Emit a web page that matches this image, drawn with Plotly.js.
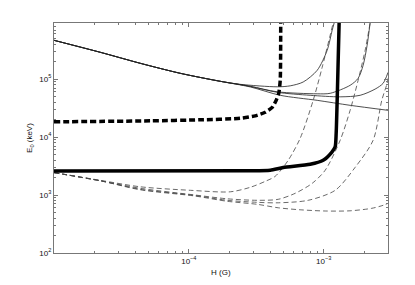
<!DOCTYPE html>
<html>
<head>
<meta charset="utf-8">
<script src="https://cdn.plot.ly/plotly-3.0.1.min.js"></script>
<style>html,body{margin:0;padding:0;background:#fff;}#chart{width:415px;height:285px;}</style>
</head>
<body>
<div id="chart"></div>
<script>
// ---- data (H in gauss, E0 in keV) ----
// thin solid curves
const solidA_H = [1e-5, 2.21e-5, 4.37e-5, 8.65e-5, 1.712e-4, 2.406e-4, 4.524e-4, 5.65e-4, 7.047e-4, 8.953e-4, 1.061e-3, 1.156e-3, 1.196e-3];
const solidA_E = [4.65e5, 2.886e5, 1.865e5, 1.254e5, 9.13e4, 8.1e4, 7.34e4, 7.63e4, 8.88e4, 1.413e5, 3.12e5, 6.91e5, 9.24e5];
const solidB_H = [1e-5, 2.21e-5, 4.37e-5, 8.65e-5, 1.712e-4, 2.855e-4, 4.524e-4, 8.953e-4, 1.117e-3, 1.571e-3, 1.801e-3, 1.962e-3, 2.1e-3, 2.21e-3];
const solidB_E = [4.65e5, 2.886e5, 1.865e5, 1.254e5, 9.13e4, 7.48e4, 6.02e4, 5.56e4, 5.67e4, 7.79e4, 1.028e5, 1.723e5, 3.81e5, 9.24e5];
const solidC_H = [1e-5, 2.21e-5, 4.37e-5, 8.65e-5, 1.712e-4, 2.855e-4, 4.524e-4, 7.943e-4, 1.325e-3, 1.864e-3, 2.406e-3, 2.759e-3, 3.0e-3];
const solidC_E = [4.65e5, 2.886e5, 1.865e5, 1.254e5, 9.13e4, 7.48e4, 5.9e4, 5.24e4, 4.93e4, 5.24e4, 6.7e4, 8.43e4, 1.3e5];
const solidD_H = [1e-5, 2.21e-5, 4.37e-5, 8.65e-5, 1.712e-4, 2.855e-4, 4.762e-4, 8.953e-4, 1.571e-3, 3.0e-3];
const solidD_E = [4.65e5, 2.886e5, 1.865e5, 1.254e5, 9.13e4, 7.3e4, 5.24e4, 4.29e4, 3.52e4, 2.886e4];

// thin dashed curves
const dashA_H = [1e-5, 2.21e-5, 4.37e-5, 1.026e-4, 2.03e-4, 2.855e-4, 3.687e-4, 4.37e-4, 5.457e-4, 6.695e-4, 8.36e-4, 9.748e-4, 1.176e-3];
const dashA_E = [2.43e3, 1.79e3, 1.385e3, 1.205e3, 1.136e3, 1.358e3, 1.72e3, 2.10e3, 3.97e3, 9.5e3, 4.29e4, 1.591e5, 9.24e5];
const dashB_H = [1e-5, 2.21e-5, 4.37e-5, 1.08e-4, 1.929e-4, 3.217e-4, 4.603e-4, 6.15e-4, 8.22e-4, 1.026e-3, 1.325e-3, 1.571e-3, 1.801e-3, 2.03e-3, 2.21e-3];
const dashB_E = [2.43e3, 1.757e3, 1.305e3, 1.008e3, 860, 810, 843, 1.07e3, 1.59e3, 2.67e3, 8.77e3, 2.886e4, 9.5e4, 3.12e5, 9.24e5];
const dashC_H = [1e-5, 2.21e-5, 4.37e-5, 1.08e-4, 1.929e-4, 3.217e-4, 4.603e-4, 7.678e-4, 1.217e-3, 1.712e-3, 2.326e-3, 2.698e-3, 2.954e-3, 3.0e-3];
const dashC_E = [2.43e3, 1.757e3, 1.254e3, 988, 810, 748, 734, 810, 1.205e3, 3.0e3, 8.77e3, 4.29e4, 8.43e4, 1.028e5];
const dashD_H = [1e-5, 2.21e-5, 4.37e-5, 1.08e-4, 1.929e-4, 3.217e-4, 4.603e-4, 6.695e-4, 1.026e-3, 1.571e-3, 2.275e-3, 2.759e-3, 3.0e-3];
const dashD_E = [2.43e3, 1.757e3, 1.229e3, 969, 779, 691, 602, 556, 530, 534, 590, 664, 719];

// thick curves
const thickSolid_H = [1e-5, 2.855e-4, 4.015e-4, 5.012e-4, 7.943e-4, 9.915e-4, 1.147e-3, 1.217e-3, 1.238e-3, 1.265e-3, 1.302e-3];
const thickSolid_E = [2.59e3, 2.61e3, 2.67e3, 2.97e3, 3.38e3, 3.97e3, 5.45e3, 6.78e3, 1.158e4, 6.39e4, 9.24e5];
const thickDash_H = [1e-5, 5.18e-5, 1.217e-4, 2.406e-4, 3.11e-4, 3.687e-4, 4.155e-4, 4.447e-4, 4.642e-4, 4.762e-4, 4.803e-4];
const thickDash_E = [1.83e4, 1.90e4, 1.98e4, 2.1e4, 2.32e4, 2.67e4, 3.25e4, 4.29e4, 5.67e4, 9.5e4, 9.24e5];

// axis ticks
const xMajor = [1e-4, 1e-3];
const xMajorText = ['10<sup>−4</sup>', '10<sup>−3</sup>'];
const yMajor = [1e2, 1e3, 1e4, 1e5];
const yMajorText = ['10<sup>2</sup>', '10<sup>3</sup>', '10<sup>4</sup>', '10<sup>5</sup>'];
const xMinor = [2e-5,3e-5,4e-5,5e-5,6e-5,7e-5,8e-5,9e-5,2e-4,3e-4,4e-4,5e-4,6e-4,7e-4,8e-4,9e-4,2e-3,3e-3];
const yMinor = [2e2,3e2,4e2,5e2,6e2,7e2,8e2,9e2,2e3,3e3,4e3,5e3,6e3,7e3,8e3,9e3,2e4,3e4,4e4,5e4,6e4,7e4,8e4,9e4,2e5,3e5,4e5,5e5,6e5,7e5,8e5,9e5];

const thin = (x, y, dash, color) => ({x, y, type: 'scatter', mode: 'lines',
  line: {color: color, width: 0.8, dash: dash, shape: 'spline', smoothing: 0.8}, hoverinfo: 'skip'});

const traces = [
  thin(solidA_H, solidA_E, 'solid', '#222'),
  thin(solidB_H, solidB_E, 'solid', '#222'),
  thin(solidC_H, solidC_E, 'solid', '#222'),
  thin(solidD_H, solidD_E, 'solid', '#222'),
  thin(dashA_H, dashA_E, '5px,3px', '#444'),
  thin(dashB_H, dashB_E, '5px,3px', '#444'),
  thin(dashC_H, dashC_E, '5px,3px', '#444'),
  thin(dashD_H, dashD_E, '5px,3px', '#444'),
  {x: thickDash_H, y: thickDash_E, type: 'scatter', mode: 'lines',
   line: {color: '#000', width: 3.5, dash: '6px,3px', shape: 'spline', smoothing: 0.6}},
  {x: thickSolid_H, y: thickSolid_E, type: 'scatter', mode: 'lines',
   line: {color: '#000', width: 3.5, shape: 'spline', smoothing: 0.6}}
];

const axisCommon = {
  type: 'log', showline: true, linecolor: '#777', linewidth: 1, mirror: 'ticks',
  ticks: 'inside', ticklen: 4, tickwidth: 1, tickcolor: '#777',
  showgrid: false, zeroline: false, tickmode: 'array',
  tickfont: {family: 'Liberation Sans, Arial, sans-serif', size: 8, color: '#111'}
};

const layout = {
  width: 415, height: 285,
  margin: {l: 53.5, r: 27, t: 22.7, b: 32.3},
  paper_bgcolor: '#fff', plot_bgcolor: '#fff',
  showlegend: false,
  xaxis: Object.assign({}, axisCommon, {
    range: [-5, Math.log10(3e-3)],
    tickvals: xMajor, ticktext: xMajorText,
    minor: {tickmode: 'array', tickvals: xMinor, ticks: 'inside', ticklen: 2, tickwidth: 1, tickcolor: '#777'}
  }),
  yaxis: Object.assign({}, axisCommon, {
    range: [2, 5.966],
    tickvals: yMajor, ticktext: yMajorText,
    minor: {tickmode: 'array', tickvals: yMinor, ticks: 'inside', ticklen: 2, tickwidth: 1, tickcolor: '#777'}
  }),
  annotations: [
    {text: 'H (G)', xref: 'paper', yref: 'paper', x: 0.5, y: -0.083, xanchor: 'center', yanchor: 'middle',
     showarrow: false, font: {family: 'Liberation Sans, Arial, sans-serif', size: 8, color: '#111'}},
    {text: 'E<sub>0</sub> (keV)', xref: 'paper', yref: 'paper', x: -0.072, y: 0.5, xanchor: 'center', yanchor: 'middle',
     textangle: -90, showarrow: false, font: {family: 'Liberation Sans, Arial, sans-serif', size: 8, color: '#111'}}
  ]
};

Plotly.newPlot('chart', traces, layout, {staticPlot: true, displayModeBar: false});
</script>
</body>
</html>
